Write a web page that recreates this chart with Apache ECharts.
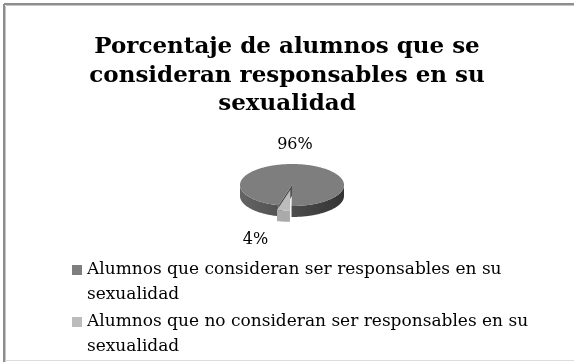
<!DOCTYPE html>
<html>
<head>
<meta charset="utf-8">
<script src="https://cdn.jsdelivr.net/npm/echarts@6/dist/echarts.min.js"></script>
<style>
  html, body { margin: 0; padding: 0; background: #fff; }
  #chart { width: 574px; height: 362px; }
</style>
</head>
<body>
<div id="chart"></div>
<script>
// Chart content
const titleText = 'Porcentaje de alumnos que se\nconsideran responsables en su\nsexualidad';
const categories = [
  'Alumnos que consideran ser responsables en su sexualidad',
  'Alumnos que no consideran ser responsables en su sexualidad'
];
const values = [96, 4];

// Look of the tilted pie
const pie = { cx: 292, cy: 185, rx: 52, ry: 21, depth: 11, startDeg: 104.9 };
const explodeDist = [0, 12];
const topColors = ['#7e7e7e', '#bcbcbc'];
const wallColors = [['#646464', '#343434'], ['#b0b0b0', '#a2a2a2']];
const faceColors = ['#4a4a4a', '#d0d0d0'];
const labelOffsets = [[-4, -19], [-28, 29]];
const serif = '"DejaVu Serif", serif';

// Legend swatch: a 10px square sitting at the top of a taller box,
// so it lines up with the first line of a two-line entry.
const legendIcon = 'path://M0 0H10V10H0Z M0 35H0.01V35.01H0Z';

const total = values.reduce((a, b) => a + b, 0);

function sliceAngles(i) {
  let a0 = pie.startDeg;
  for (let k = 0; k < i; k++) a0 += values[k] / total * 360;
  return [a0, a0 + values[i] / total * 360];
}

function pt(a, ox, oy, dz) {
  const r = a * Math.PI / 180;
  return [pie.cx + ox + pie.rx * Math.cos(r), pie.cy + oy + pie.ry * Math.sin(r) + dz];
}

function arc(a0, a1, ox, oy, dz) {
  const n = Math.max(2, Math.ceil(Math.abs(a1 - a0)));
  const out = [];
  for (let j = 0; j <= n; j++) out.push(pt(a0 + (a1 - a0) * j / n, ox, oy, dz));
  return out;
}

function renderSlice(params) {
  const i = params.seriesIndex;
  const [a0, a1] = sliceAngles(i);
  const mid = (a0 + a1) / 2 * Math.PI / 180;
  const ox = explodeDist[i] * Math.cos(mid);
  const oy = explodeDist[i] * Math.sin(mid) * pie.ry / pie.rx;
  const c = [pie.cx + ox, pie.cy + oy];
  const cb = [c[0], c[1] + pie.depth];
  const children = [];

  const wallFill = {
    type: 'linear', global: true,
    x: pie.cx - pie.rx, y: 0, x2: pie.cx + pie.rx, y2: 0,
    colorStops: [{ offset: 0, color: wallColors[i][0] }, { offset: 1, color: wallColors[i][1] }]
  };

  // cut faces that turn toward the viewer
  const faces = [];
  if (Math.sin((a0 - 90) * Math.PI / 180) > 0) faces.push(a0);
  if (Math.sin((a1 + 90) * Math.PI / 180) > 0) faces.push(a1);
  faces.forEach(a => {
    children.push({
      type: 'polygon',
      shape: { points: [c, pt(a, ox, oy, 0), pt(a, ox, oy, pie.depth), cb] },
      style: { fill: faceColors[i] }
    });
  });

  // outer walls on the front half
  [0, 360].forEach(k => {
    const lo = Math.max(a0, k), hi = Math.min(a1, k + 180);
    if (hi > lo) {
      const top = arc(lo, hi, ox, oy, 0);
      const bottom = arc(hi, lo, ox, oy, pie.depth);
      children.push({
        type: 'polygon',
        shape: { points: top.concat(bottom) },
        style: { fill: wallFill }
      });
    }
  });

  // top face
  children.push({
    type: 'polygon',
    shape: { points: [c].concat(arc(a0, a1, ox, oy, 0)) },
    style: { fill: topColors[i] }
  });

  // percentage label
  const edge = [c[0] + pie.rx * Math.cos(mid), c[1] + pie.ry * Math.sin(mid)];
  children.push({
    type: 'text',
    style: {
      text: Math.round(values[i] / total * 100) + '%',
      x: edge[0] + labelOffsets[i][0],
      y: edge[1] + labelOffsets[i][1],
      align: 'center', verticalAlign: 'middle',
      font: '16px ' + serif, fill: '#000'
    }
  });

  return { type: 'group', children };
}

const chart = echarts.init(document.getElementById('chart'), null, { renderer: 'canvas' });
chart.setOption({
  animation: false,
  backgroundColor: '#fff',
  title: {
    text: titleText,
    left: 'center',
    top: 28,
    textStyle: { fontFamily: serif, fontWeight: 'bold', fontSize: 23, lineHeight: 28.5, color: '#000' }
  },
  legend: {
    orient: 'vertical',
    left: 72,
    top: 257.5,
    height: 104,
    padding: 0,
    icon: legendIcon,
    itemWidth: 10,
    itemHeight: 35,
    itemGap: 2,
    selectedMode: false,
    formatter: n => n.replace(' sexualidad', '\nsexualidad'),
    textStyle: { fontFamily: serif, fontSize: 17, lineHeight: 25, color: '#000' },
    data: categories.map((name, i) => ({ name, itemStyle: { color: topColors[i] } }))
  },
  graphic: [
    { type: 'line', shape: { x1: 4, y1: 4, x2: 574, y2: 4 }, style: { stroke: '#8e8e8e', lineWidth: 2 } },
    { type: 'line', shape: { x1: 4, y1: 4, x2: 4, y2: 362 }, style: { stroke: '#8e8e8e', lineWidth: 2 } },
    { type: 'line', shape: { x1: 6, y1: 5.5, x2: 574, y2: 5.5 }, style: { stroke: '#c4c4c4', lineWidth: 1 } },
    { type: 'line', shape: { x1: 5.5, y1: 6, x2: 5.5, y2: 362 }, style: { stroke: '#c4c4c4', lineWidth: 1 } },
    { type: 'line', shape: { x1: 5, y1: 360.5, x2: 574, y2: 360.5 }, style: { stroke: '#dcdcdc', lineWidth: 1 } }
  ],
  series: categories.map((name, i) => ({
    type: 'custom',
    name,
    coordinateSystem: 'none',
    silent: true,
    z: 2 + i,
    itemStyle: { color: topColors[i] },
    data: [values[i]],
    renderItem: renderSlice
  }))
});
</script>
</body>
</html>
